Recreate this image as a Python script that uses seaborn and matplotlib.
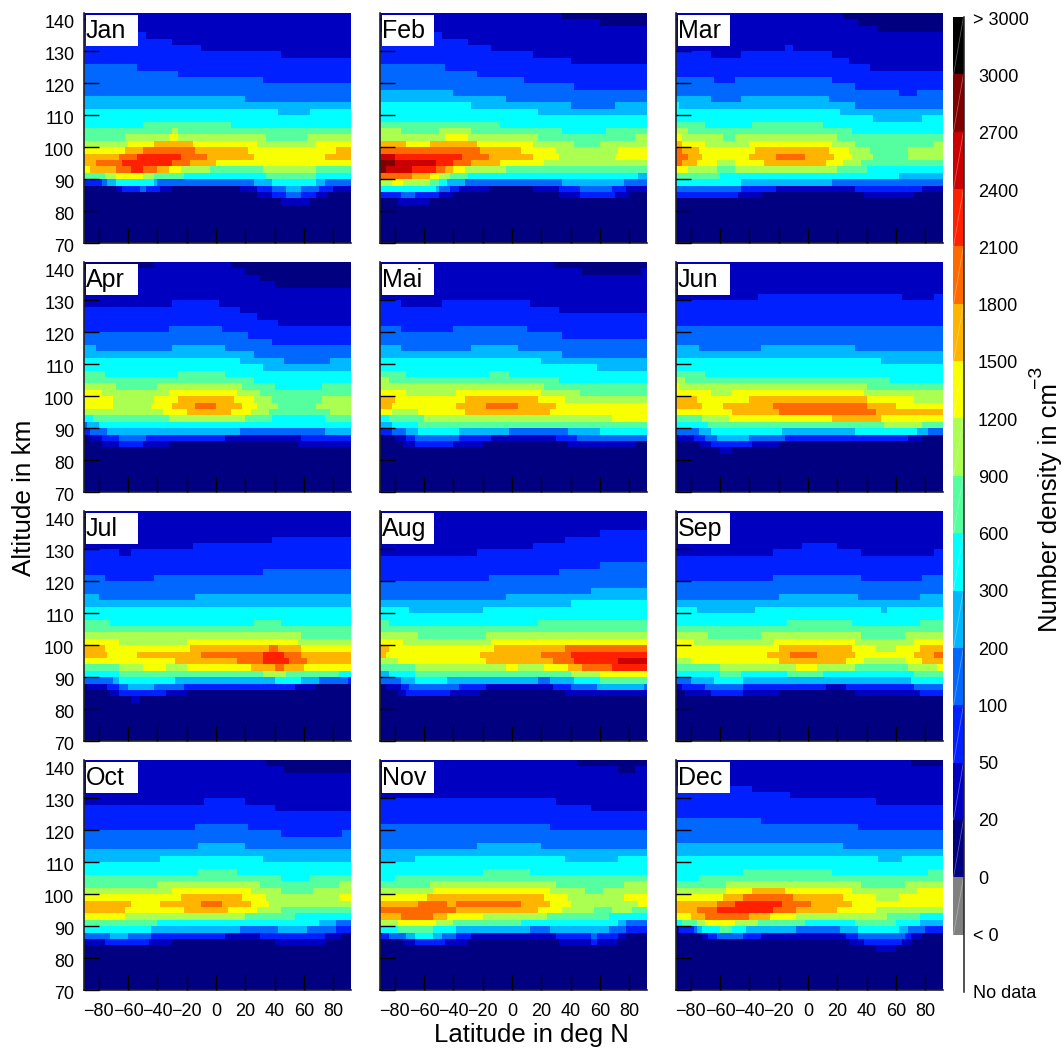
import matplotlib
matplotlib.use("Agg")
import matplotlib.pyplot as plt
import numpy as np
import pandas as pd
import seaborn as sns
from matplotlib.colors import BoundaryNorm, ListedColormap
from matplotlib.patches import Rectangle
from matplotlib.transforms import ScaledTranslation

sns.set_theme(style="white")
plt.rcParams["font.family"] = "Liberation Sans"
plt.rcParams["mathtext.default"] = "regular"

MONTHS = ["Jan", "Feb", "Mar", "Apr", "Mai", "Jun", "Jul", "Aug", "Sep", "Oct", "Nov", "Dec"]
LAT_TICKS = [-80, -60, -40, -20, 0, 20, 40, 60, 80]
ALT_TICKS = [70, 80, 90, 100, 110, 120, 130, 140]
BOUNDS = [0, 20, 50, 100, 200, 300, 600, 900, 1200, 1500, 1800, 2100, 2400, 2700, 3000]
# typical density of each colour class
CLASS_DENSITY = [10, 35, 75, 150, 250, 450, 750, 1050, 1350, 1650, 1950, 2250, 2550, 2850]
COLORS = ["#000080", "#0000c0", "#0020ff", "#0068ff", "#00b8ff", "#00ffff", "#55ffa0", "#aaff50",
          "#f8ff00", "#ffb400", "#ff6a00", "#ff2000", "#cc0000", "#800000"]
CBAR_LABELS = ["> 3000", "3000", "2700", "2400", "2100", "1800", "1500", "1200", "900", "600",
               "300", "200", "100", "50", "20", "0", "< 0", "No data"]

# One string per 2 km altitude bin, from 142 km downwards: colour class (hex), the
# latitude where it ends, next class, ... Bins not listed are class 0.
JAN = ["1", "1", "1", "2 -48 1", "2 -30 1", "2 -10 1", "2 44 1", "2", "3 -54 2", "3 -26 2", "3 32 2", "3", "3",
       "4 20 3", "4", "5 42 4 64 5", "5", "5 -50 6 10 5", "6 -30 7 -26 6", "6 -62 7 -32 8 -26 7 34 6 62 7",
       "7 -60 8 -42 9 -16 8 28 7 68 8", "8 -62 9 -50 a -14 9 22 8 82 9",
       "9 -66 a -54 b -24 a -6 9 26 8 74 9", "9 -82 a -64 b -30 a -18 9 0 8",
       "8 -86 9 -68 a -58 b -50 a -40 9 -32 8 -24 7 -4 6 32 7 68 6",
       "6 -76 7 -68 8 -50 7 -42 6 -22 5 34 6 68 5",
       "2 -78 3 -74 4 -68 5 -42 4 -40 3 26 4 38 5 68 4 74 3",
       "0 -68 1 -64 2 -52 3 -48 2 -38 1 -30 0 16 1 28 2 38 3 48 4 58 3 70 2 80 1",
       "0 28 1 38 2 48 3 58 2 68 1 76 0", "0 44 1 64 0"]
FEB = ["1 34 0", "1 60 0", "1", "2 -48 1", "2 -30 1", "2 -14 1", "2 14 1", "2 40 1", "3 -46 2", "3 -24 2", "3 8 2",
       "3 42 2", "4 -40 3", "4 -4 3", "5 -28 4 40 3 70 4", "5 18 4", "5", "6 -8 5",
       "7 -76 6 -50 7 -28 6 34 5 64 6", "7 -46 8 -30 7 18 6 84 7",
       "9 -72 8 -56 9 -24 8 14 7 42 6 60 7", "a -22 9 6 8 30 7 72 8",
       "c -80 b -34 a -16 9 14 8 32 7 70 8", "d -80 c -52 b -40 a -28 9 -8 8 22 7",
       "d -86 c -68 b -52 a -46 9 -40 8 -32 7 -4 6", "a -68 9 -56 8 -50 7 -42 6 -30 5 86 4",
       "7 -82 8 -74 7 -56 6 -50 5 -44 4 -32 3 34 4 76 3",
       "5 -52 4 -50 3 -42 2 -36 1 -16 0 14 1 32 2 46 3 68 2 78 1",
       "2 -76 3 -66 2 -50 1 -40 0 32 1 46 2 70 1 80 0", "0 -78 1 -56 0"]
MAR = ["1 24 0", "1 34 0", "1 48 0", "1", "1", "1 -16 2 -10 1", "2 -66 1 -46 2 16 1", "2 28 1", "2 42 1", "2",
       "3 -64 2 -50 3 16 2", "3 32 2", "3 62 2 74 3", "4 -66 3 -46 4 14 3", "5 -88 4 32 3", "5 22 4",
       "5 44 4 78 5", "6 -70 5 -38 6 10 5", "7 -82 6 30 5", "8 -86 7 -58 6 -50 7 20 6",
       "9 -86 8 -70 7 -40 8 16 7 32 6 86 7", "a -86 9 -74 8 -36 9 14 8 28 7 42 6 68 7",
       "a -82 9 -72 8 -40 9 -22 a -2 9 18 8 30 7 44 6 68 7", "a -86 9 -76 8 -62 7 -50 8 -30 9 12 8 24 7 36 6",
       "8 -82 7 -62 6 -50 7 20 6 40 5", "6 -60 5 62 4", "5 -46 4 16 3", "3 -46 2 -22 1 32 2 78 1",
       "2 -48 1 -32 0 38 1 72 0"]
APR = ["0 -42 1 10 0", "1 20 0", "1 30 0", "1 40 0", "1", "1", "1 -30 2 2 1", "2 16 1", "2 28 1", "2 42 1",
       "2 -32 3 4 2", "3 22 2", "3 38 2", "4 -82 3 -30 4 6 3", "4 26 3", "5 16 4 46 3 78 4", "5 32 4",
       "6 -76 5 -26 6 6 5", "6 26 5", "7 -68 6 -40 7 18 6 40 5 72 6", "8 -78 7 -32 8 14 7 30 6",
       "8 -70 7 -42 8 -26 9 12 8 26 7 38 6 72 7", "8 -70 7 -44 8 -30 9 -14 a 0 9 18 8 28 7 42 6 68 7",
       "7 -36 8 -20 9 10 8 24 7 36 6 78 7", "5 -84 6 -32 7 20 6 38 5 74 6", "3 -88 4 -80 5",
       "2 -86 3 -74 4 16 3 74 4", "0 -86 1 -78 2 -66 3 -48 2 6 1 58 2", "0 -78 1 -66 2 -50 1 -32 0 56 1"]
MAI = ["1 28 0", "1 48 0 88 1", "1", "1", "1", "1", "2 -76 1 -48 2 12 1", "2 32 1", "2", "2",
       "3 -76 2 -40 3 10 2", "3 34 2", "3", "4 -76 3 -28 4 4 3", "4 34 3", "5 20 4", "5 58 4",
       "6 -72 5 -16 6 -2 5", "7 -84 6 32 5", "7 22 6", "8 -72 7 -38 8 20 7 46 6", "9 -80 8 -32 9 18 8 36 7",
       "9 -82 8 -38 9 -18 a 4 9 30 8", "8 -82 7 -64 8 -32 9 26 8", "5 -84 6 -60 7 68 8", "4 -82 5 -64 6",
       "2 -82 3 -72 4 -64 5 -36 4 -2 3 38 4 60 5", "0 -80 1 -72 2 -66 3 -36 2 -14 1 30 2 44 3",
       "0 -74 1 -66 2 -40 1 -20 0 38 1 84 0"]
JUN = ["1", "1", "1", "1", "1", "1 -34 2 64 1 86 2", "2", "2", "2", "2", "3", "3", "3", "4 -74 3 -32 4 32 3", "4",
       "5 50 4", "5", "6 -70 5", "7 -84 6 56 5", "8 -88 7 40 6", "8 -66 7 -52 8 38 7", "9 -76 8 -40 9 40 8 72 7",
       "9 -72 8 -58 9 -24 a 40 9 60 8", "8 -52 9 -20 a 46 9", "6 -72 7 -54 8 16 9 50 8", "5 -68 6 52 7 78 6",
       "3 -74 4 -66 5 -18 4 32 5 74 4 82 3", "1 -78 2 -70 3 -62 4 -40 3 -16 2 68 1 78 0",
       "0 -74 1 -66 2 -38 1 -20 0", "0 -60 1 -52 0"]
JUL = ["1", "1", "1", "1", "1 38 2", "1 -16 2", "2 -66 1 -58 2", "2", "2", "2 32 3", "3 -76 2 -42 3", "3", "3",
       "4 -80 3 -14 4", "4", "5", "5", "6 -72 5 26 6 44 5", "6", "7 58 6", "8 -66 7 -20 8 56 7",
       "9 -76 8 -18 9 36 a 42 9 58 8", "9 -74 8 -54 9 -10 a 32 b 46 a 58 9", "8 -28 9 14 a 32 b 50 a 62 9",
       "6 -66 7 -50 8 -34 7 -20 8 24 9 40 a 46 9 60 8", "5 -66 6 32 7 48 6 84 5",
       "3 -70 4 -66 5 -28 4 40 5 58 4 70 3 90 2", "0 -88 1 -74 2 -66 3 -60 4 -42 3 -22 2 54 1 68 0",
       "0 -72 1 -66 2 -34 1 -20 0", "0 -58 1 -52 0"]
AUG = ["1", "1", "1", "1 60 2", "1 36 2", "1 14 2", "1 -24 2", "2", "2 60 3", "2 32 3", "2 -16 3", "3", "3 54 4",
       "3 -4 4", "4 40 5", "5 -70 4 -20 5", "5", "6 -84 5 18 6", "6", "7 -64 6 -18 7", "8 -74 7 -14 8",
       "9 -84 8 -12 9 36 a", "9 -86 8 -22 9 20 a 40 b", "7 -78 8 -18 9 28 a 42 b 72 c",
       "6 -66 7 -4 8 4 7 22 8 38 9 48 a 68 b", "4 -84 5 -66 6 40 7 60 8", "3 -76 4 -66 5 -44 4 18 3 26 4 42 5 60 6",
       "0 -86 1 -76 2 -70 3 -36 2 -18 1 28 2 40 3 58 4 90 3", "0 -78 1 -72 2 -42 1 -22 0 36 1"]
SEP = ["1", "1", "1", "1", "1", "1 -4 2 20 1", "1 -24 2 36 1 86 2", "2", "2", "2", "2 -24 3 36 2 78 3", "3", "3",
       "3 -20 4 34 3 76 4", "4", "5 -76 4 -36 5 50 4 54 5", "5", "5 -14 6 30 5 76 6", "6",
       "7 -68 6 -32 7 36 6 66 7", "8 -78 7 -24 8 32 7 72 8", "8 -20 9 30 8 46 7 60 8 76 9",
       "8 -28 9 -12 a 6 9 32 8 72 9 86 a", "7 -80 8 -20 9 26 8 38 7 66 8 78 9",
       "6 -60 7 -8 8 6 7 32 6 68 7 88 8", "5 -60 6 -46 5 -14 6 10 5 72 6", "3 -80 4 -64 5 -44 4 70 5",
       "1 -86 2 -70 3 -44 2 12 1 26 2 72 3", "0 -84 1 -66 2 -44 1 -20 0 32 1 76 2"]
OCT = ["1 34 0", "1 46 0", "1", "1", "1", "1", "1 -8 2 20 1", "2 40 1", "2", "2", "2 -14 3 22 2", "3 44 2 86 3", "3",
       "3 -12 4 20 3", "4", "4 -38 5 32 4", "5", "5 -12 6 14 5", "6 44 5 64 6", "6 -40 7 30 6 84 7",
       "7 -30 8 24 7 44 6 66 7", "8 -24 9 18 8 34 7 84 8", "9 -58 8 -38 9 -10 a 4 9 24 8 36 7",
       "9 -62 8 -22 9 8 8 28 7 44 6", "8 -62 7 20 6 54 5", "6 -40 5 70 4 82 3", "5 -44 4 16 3 42 4 62 3 82 2",
       "3 -72 4 -60 3 -44 2 6 1 30 2 74 1 86 0", "1 -76 2 -46 1 -30 0 40 1 74 0"]
NOV = ["1 44 0", "1 72 0 84 1", "1", "1", "1", "1", "2 30 1", "2 54 1", "2", "2", "3 26 2", "3", "3",
       "3 -24 4 20 3", "4", "4 -66 5 36 4 72 5", "5", "5 -20 6 12 5", "5 -80 6", "6 -56 7 30 6 76 7",
       "7 -54 8 26 7 50 6 62 7", "8 -58 9 22 8 38 7 76 8", "9 -64 a -44 9 -38 a 6 9 26 8 40 7 86 8",
       "a -38 9 18 8 34 7 56 6 68 7 82 6", "9 -76 a -54 9 -44 8 -20 7 24 6 66 5",
       "7 -78 8 -52 7 -40 6 6 5 72 4 78 3", "5 -78 6 -54 5 -38 4 12 3 26 4 66 3 78 2",
       "2 -84 3 -72 4 -66 5 -54 4 -48 3 -38 2 -28 1 30 2 54 3 58 2 72 1 78 0",
       "0 -74 1 -66 2 -46 1 -30 0 32 1 54 2 58 1 72 0"]
DEC = ["1 70 0", "1", "1", "1", "2 -38 1", "2 -12 1", "2 46 1", "2", "2", "3 -32 2", "3 34 2", "3", "3", "4 24 3", "4",
       "5 48 4 64 5", "5", "5 -44 6 16 5 82 6", "5 -74 6", "6 -56 7 36 6 66 7",
       "7 -56 8 -38 9 -16 8 30 7 74 8", "8 -58 9 -44 a -10 9 24 8 46 7 62 8", "9 -62 a -50 b -18 a 2 9 30 8",
       "9 -76 a -62 b -24 a -8 9 20 8 46 7", "8 -80 9 -70 a -40 9 -26 8 -8 7 54 6 76 5",
       "5 -86 6 -76 7 -70 8 -50 7 -34 6 -2 5 32 6 60 5 76 4",
       "1 -88 2 -78 3 -76 4 -72 5 -60 6 -52 5 -42 4 -8 3 22 4 34 5 62 4 68 3 80 2",
       "0 -72 1 -68 2 -62 3 -44 2 -32 1 26 2 34 3 66 2 70 1 78 0", "0 28 1 38 2 64 1 70 0", "0 46 1 60 0"]
MONTH_ROWS = [JAN, FEB, MAR, APR, MAI, JUN, JUL, AUG, SEP, OCT, NOV, DEC]

LAT_EDGES = np.arange(-90, 92, 2)
ALT_TOPS = np.arange(142, 70, -2)

W, H = 1064, 1048
PANEL_X = [84, 380, 676]
PANEL_Y = [13, 262, 511, 760]
PANEL_W, PANEL_H = 267, 230


def px_axes(fig, x, y, w, h):
    return fig.add_axes([x / W, 1 - (y + h) / H, w / W, h / H])


def month_frame(rows):
    grid = np.full((len(ALT_TOPS), len(LAT_EDGES)), CLASS_DENSITY[0], dtype=float)
    for i, row in enumerate(rows):
        parts = row.split()
        start = -90
        for k in range(0, len(parts), 2):
            end = int(parts[k + 1]) if k + 1 < len(parts) else 92
            grid[i, (LAT_EDGES >= start) & (LAT_EDGES < end)] = CLASS_DENSITY[int(parts[k], 16)]
            start = end
    return pd.DataFrame(grid, index=ALT_TOPS - 1, columns=LAT_EDGES + 1)


fig = plt.figure(figsize=(W / 100, H / 100), dpi=100)
cmap = ListedColormap(COLORS)
norm = BoundaryNorm(BOUNDS, cmap.N)
label_shift = ScaledTranslation(0, -2.5 / 100, fig.dpi_scale_trans)

for n, month in enumerate(MONTHS):
    row, col = divmod(n, 3)
    ax = px_axes(fig, PANEL_X[col], PANEL_Y[row], PANEL_W, PANEL_H)
    sns.heatmap(month_frame(MONTH_ROWS[n]), ax=ax, cmap=cmap, norm=norm, cbar=False,
                xticklabels=False, yticklabels=False)
    ax.set_xlabel("")
    ax.set_ylabel("")
    ax.set_axisbelow(False)
    ax.set_xticks([(v + 90) / 2 for v in LAT_TICKS])
    ax.set_yticks([(142 - v) / 2 for v in ALT_TICKS])
    ax.set_xticklabels([str(v).replace("-", "\u2212") for v in LAT_TICKS], fontsize=13)
    ax.set_yticklabels([str(v) for v in ALT_TICKS], fontsize=13)
    ax.tick_params(direction="in", length=11, width=1.0, color="black", pad=7,
                   left=True, bottom=True, labelleft=col == 0, labelbottom=row == 3, labelcolor="black")
    ax.tick_params(axis="x", pad=9.5)
    for lab in ax.get_yticklabels():
        lab.set_transform(lab.get_transform() + label_shift)
    for side in ["left", "bottom"]:
        ax.spines[side].set_visible(True)
        ax.spines[side].set_color("#222222")
        ax.spines[side].set_linewidth(1.2)
    ax.add_patch(Rectangle((2 / PANEL_W, 1 - 33 / PANEL_H), 52 / PANEL_W, 31 / PANEL_H,
                           transform=ax.transAxes, facecolor="white", edgecolor="none", zorder=3))
    ax.text(2 / PANEL_W, 1 - 18 / PANEL_H, month, transform=ax.transAxes, fontsize=18,
            ha="left", va="center", color="black", zorder=4)

# colour key: white "No data", grey "< 0", the density classes, then black
key_colors = ["black"] + COLORS[::-1] + ["#808080", "white"]
cax = px_axes(fig, 953, 17, 11, 975)
sns.heatmap(pd.DataFrame({"key": np.arange(len(key_colors))}), ax=cax, cmap=ListedColormap(key_colors),
            cbar=False, xticklabels=False, yticklabels=False)
cax.set_xlabel("")
cax.set_ylabel("")
for i in range(len(key_colors) - 1):
    cax.plot([0.05, 0.95], [i + 1, i], color="white", alpha=0.35, lw=0.6)
cax.spines["right"].set_visible(True)
cax.spines["right"].set_color("#222222")
cax.spines["right"].set_linewidth(1.1)

for i, label in enumerate(CBAR_LABELS):
    key_y = 20.5 + i * (993.5 - 20.5) / (len(CBAR_LABELS) - 1)
    x = 973 if label[0] in "<>N" else 978
    fig.text(x / W, 1 - key_y / H, label, fontsize=13, ha="left", va="center", color="black")

fig.text(24 / W, 1 - 498 / H, "Altitude in km", rotation=90, fontsize=18.8, ha="center", va="center", color="black")
fig.text(531 / W, 1 - 1035 / H, "Latitude in deg N", fontsize=18.5, ha="center", va="center", color="black")
fig.text(1050 / W, 1 - 508 / H, "Number density in cm", rotation=90, fontsize=18.5,
         ha="center", va="center", color="black")
fig.text(1037 / W, 1 - 377 / H, "\u22123", rotation=90, fontsize=14, ha="center", va="center", color="black")

fig.savefig("out.png", dpi=100)
